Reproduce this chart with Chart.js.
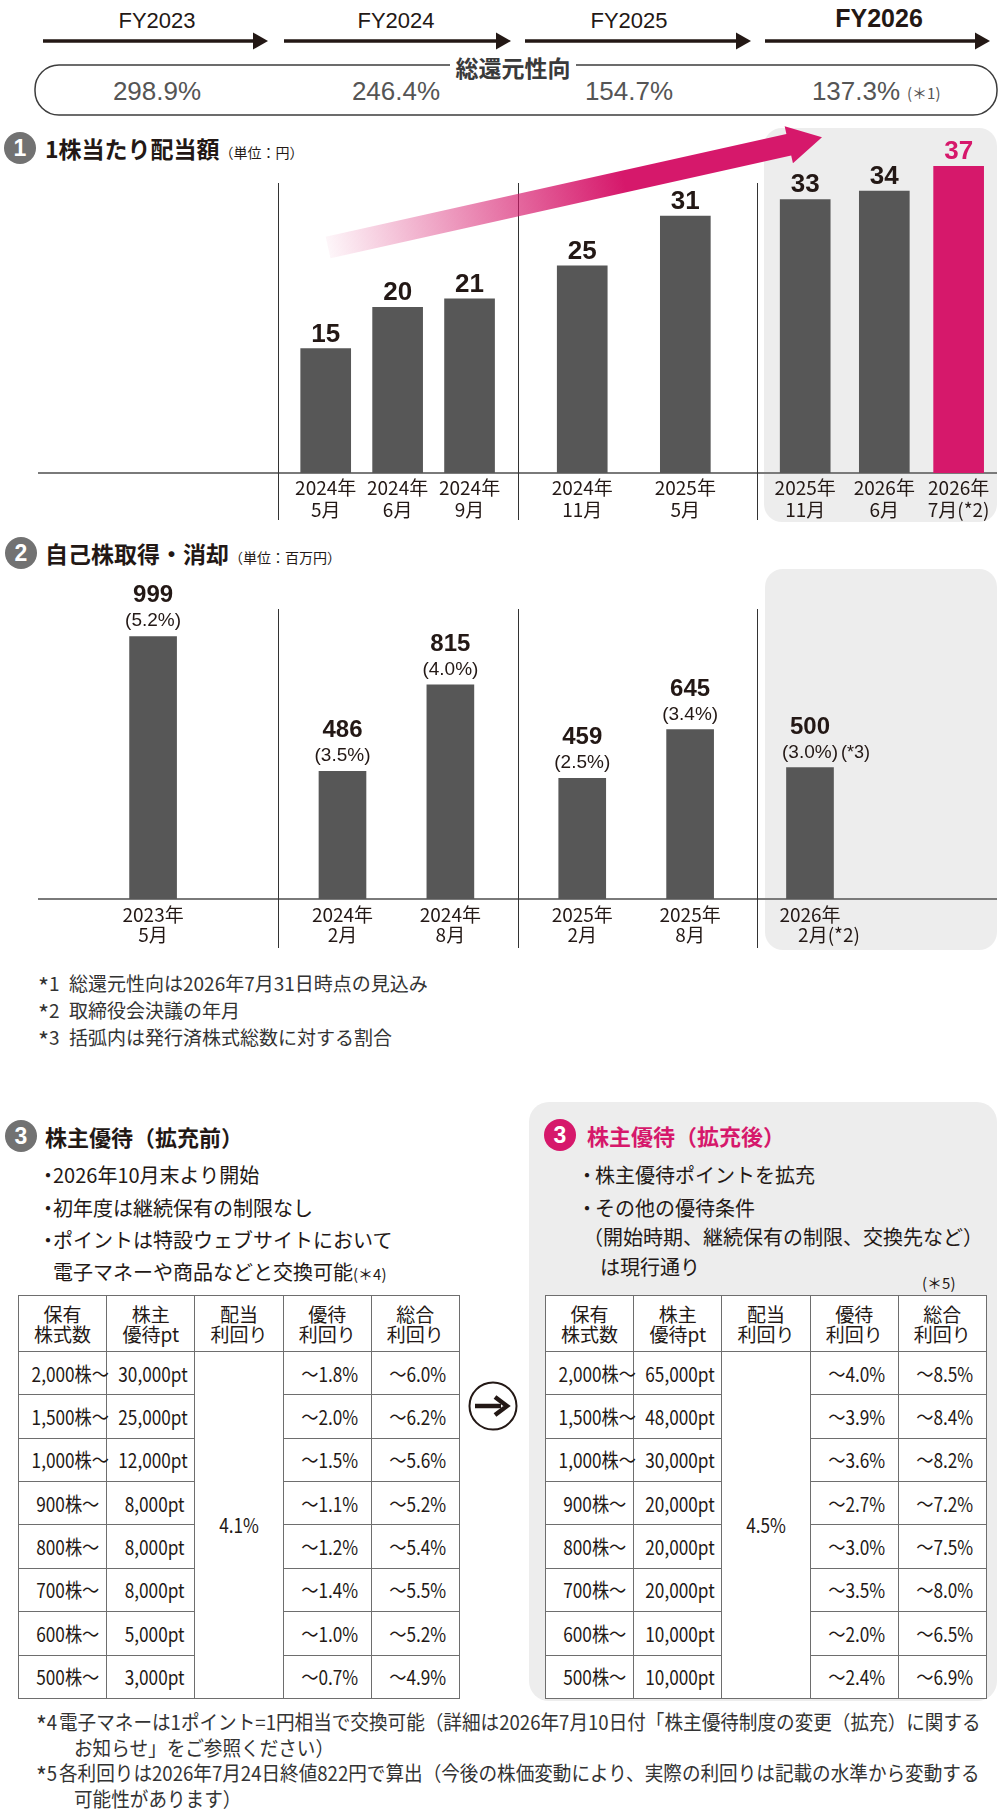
<!DOCTYPE html>
<html lang="ja">
<head>
<meta charset="utf-8">
<title>株主還元</title>
<script src="https://cdn.jsdelivr.net/npm/chart.js@4.4.1/dist/chart.umd.min.js"></script>
<style>
  html, body { margin: 0; padding: 0; }
  body {
    width: 1000px; height: 1818px; position: relative; overflow: hidden; background: #fff;
    font-family: "Noto Sans CJK JP", sans-serif; color: #231815;
  }
  .panel { position: absolute; background: #ededed; }
  .num {
    position: absolute; width: 32px; height: 32px; border-radius: 50%; background: #727272; color: #fff;
    font: bold 23px/32px "Liberation Sans", sans-serif; text-align: center;
  }
  .num.pink { background: #d6186b; }
  .title { position: absolute; font-weight: 700; font-size: 23px; line-height: 30px; white-space: nowrap; }
  .title small { font-size: 14px; font-weight: 400; }
  .title.pink { color: #d6186b; font-size: 22px; }
  .note { position: absolute; font-size: 19px; line-height: 26px; white-space: nowrap; color: #333; }
  .ast { position: relative; top: 5px; font-size: 1.25em; line-height: 0; }
  .bullet { position: absolute; font-size: 20px; line-height: 28px; white-space: nowrap; }
  .bullet .dot { display: inline-block; width: 15px; }
  .small { font-size: 15px; }
  .fn {
    position: absolute; font-size: 20px; line-height: 26px; white-space: nowrap; color: #333;
    transform: scaleX(.93); transform-origin: 0 50%;
  }
  canvas { position: absolute; }
  table.perk {
    position: absolute; top: 1295px; width: 442px; height: 403px;
    border-collapse: collapse; table-layout: fixed; background: #fff;
  }
  table.perk th, table.perk td { border: 1px solid #6e6e6e; padding: 0; overflow: visible; white-space: nowrap; }
  table.perk tr.head { height: 56px; }
  table.perk tr.row { height: 43.37px; }
  table.perk th { font-weight: 400; font-size: 19px; line-height: 20px; text-align: center; }
  table.perk td { font-size: 20px; text-align: right; }
  table.perk td span { display: inline-block; transform: scaleX(.86); transform-origin: 100% 50%; }
  table.perk td.c1 { padding-right: 7px; }
  table.perk td.c2 { padding-right: 10px; }
  table.perk td.c3 { text-align: center; }
  table.perk td.c3 span { transform-origin: 50% 50%; }
  table.perk td.c4 { padding-right: 13px; }
  table.perk td.c5 { padding-right: 13px; }
</style>
</head>
<body>

<svg id="header" width="1000" height="125" style="position:absolute;left:0;top:0"></svg>

<div class="panel" style="left:764px;top:128px;width:233px;height:394px;border-radius:18px"></div>
<div class="num" style="left:4px;top:132px">1</div>
<div class="title" style="left:45px;top:133px">1株当たり配当額<small>（単位：円）</small></div>
<canvas id="dps" width="959" height="430" style="left:38px;top:100px"></canvas>

<div class="panel" style="left:765px;top:569px;width:232px;height:381px;border-radius:18px"></div>
<div class="num" style="left:5px;top:537px">2</div>
<div class="title" style="left:45px;top:538px">自己株取得・消却<small>（単位：百万円）</small></div>
<canvas id="buyback" width="959" height="392" style="left:38px;top:560px"></canvas>

<div class="note" style="left:38px;top:970px"><span class="ast">*</span>1</div>
<div class="note" style="left:69px;top:970px">総還元性向は2026年7月31日時点の見込み</div>
<div class="note" style="left:38px;top:997px"><span class="ast">*</span>2</div>
<div class="note" style="left:69px;top:997px">取締役会決議の年月</div>
<div class="note" style="left:38px;top:1024px"><span class="ast">*</span>3</div>
<div class="note" style="left:69px;top:1024px">括弧内は発行済株式総数に対する割合</div>

<div class="num" style="left:5px;top:1120px">3</div>
<div class="title" style="left:45px;top:1121px;font-size:22px">株主優待（拡充前）</div>
<div class="bullet" style="left:38px;top:1161px"><span class="dot">・</span>2026年10月末より開始</div>
<div class="bullet" style="left:38px;top:1194px"><span class="dot">・</span>初年度は継続保有の制限なし</div>
<div class="bullet" style="left:38px;top:1226px"><span class="dot">・</span>ポイントは特設ウェブサイトにおいて</div>
<div class="bullet" style="left:53px;top:1258px">電子マネーや商品などと交換可能<span class="small">(＊4)</span></div>

<div class="panel" style="left:529px;top:1102px;width:468px;height:599px;border-radius:20px"></div>
<div class="num pink" style="left:544px;top:1119px">3</div>
<div class="title pink" style="left:587px;top:1120px">株主優待（拡充後）</div>
<div class="bullet" style="left:577px;top:1161px"><span class="dot" style="width:18px">・</span>株主優待ポイントを拡充</div>
<div class="bullet" style="left:577px;top:1194px"><span class="dot" style="width:18px">・</span>その他の優待条件</div>
<div class="bullet" style="left:583px;top:1223px">（開始時期、継続保有の制限、交換先など）</div>
<div class="bullet" style="left:600px;top:1253px">は現行通り</div>
<div class="bullet small" style="left:922px;top:1269px">(＊5)</div>

<table class="perk" id="before" style="left:18px"></table>
<table class="perk" id="after" style="left:545px"></table>

<svg width="60" height="60" style="position:absolute;left:463px;top:1376px">
  <circle cx="30" cy="30" r="23.5" fill="#fff" stroke="#231815" stroke-width="2"/>
  <line x1="12" y1="30" x2="38" y2="30" stroke="#231815" stroke-width="4.5"/>
  <polyline points="32,21 44,30 32,39" fill="none" stroke="#231815" stroke-width="4.5" stroke-linejoin="miter"/>
</svg>

<div class="fn" style="left:36px;top:1709px"><span class="ast">*</span>4</div>
<div class="fn" style="left:59px;top:1709px">電子マネーは1ポイント=1円相当で交換可能（詳細は2026年7月10日付「株主優待制度の変更（拡充）に関する</div>
<div class="fn" style="left:74px;top:1735px">お知らせ」をご参照ください）</div>
<div class="fn" style="left:36px;top:1760px"><span class="ast">*</span>5</div>
<div class="fn" style="left:59px;top:1760px">各利回りは2026年7月24日終値822円で算出（今後の株価変動により、実際の利回りは記載の水準から変動する</div>
<div class="fn" style="left:74px;top:1786px">可能性があります）</div>

<script>
// header: fiscal years and total payout ratio
const fiscalYears = ["FY2023", "FY2024", "FY2025", "FY2026"]
const payoutRatio = ["298.9%", "246.4%", "154.7%", "137.3%"]

// 1: dividend per share (yen)
const dpsLabels = [["2024年", "5月"], ["2024年", "6月"], ["2024年", "9月"], ["2024年", "11月"],
  ["2025年", "5月"], ["2025年", "11月"], ["2026年", "6月"], ["2026年", "7月(*2)"]]
const dpsValues = [15, 20, 21, 25, 31, 33, 34, 37]
// position on the fiscal-year timeline (0 = start of FY2023, 4 = end of FY2026)
const dpsTimeline = [1.2, 1.5, 1.8, 2.27, 2.7, 3.2, 3.53, 3.84]

// 2: share buyback and cancellation (million yen)
const buybackLabels = [["2023年", "5月"], ["2024年", "2月"], ["2024年", "8月"],
  ["2025年", "2月"], ["2025年", "8月"], ["2026年", "\u3000\u30002月(*2)"]]
const buybackValues = [999, 486, 815, 459, 645, 500]
const buybackShare = ["(5.2%)", "(3.5%)", "(4.0%)", "(2.5%)", "(3.4%)", "(3.0%)"]
const buybackTimeline = [0.48, 1.27, 1.72, 2.27, 2.72, 3.22]

// 3: shareholder benefit tables
const tableHead = ["保有<br>株式数", "株主<br>優待pt", "配当<br>利回り", "優待<br>利回り", "総合<br>利回り"]
const holdings = ["2,000株～", "1,500株～", "1,000株～", "900株～", "800株～", "700株～", "600株～", "500株～"]
const pointsBefore = ["30,000pt", "25,000pt", "12,000pt", "8,000pt", "8,000pt", "8,000pt", "5,000pt", "3,000pt"]
const dividendYieldBefore = "4.1%"
const benefitYieldBefore = ["～1.8%", "～2.0%", "～1.5%", "～1.1%", "～1.2%", "～1.4%", "～1.0%", "～0.7%"]
const totalYieldBefore = ["～6.0%", "～6.2%", "～5.6%", "～5.2%", "～5.4%", "～5.5%", "～5.2%", "～4.9%"]
const pointsAfter = ["65,000pt", "48,000pt", "30,000pt", "20,000pt", "20,000pt", "20,000pt", "10,000pt", "10,000pt"]
const dividendYieldAfter = "4.5%"
const benefitYieldAfter = ["～4.0%", "～3.9%", "～3.6%", "～2.7%", "～3.0%", "～3.5%", "～2.0%", "～2.4%"]
const totalYieldAfter = ["～8.5%", "～8.4%", "～8.2%", "～7.2%", "～7.5%", "～8.0%", "～6.5%", "～6.9%"]

const INK = "#231815"
const BAR = "#575757"
const PINK = "#d6186b"

// ---- header ----
const arrowSpans = [[43, 268], [284, 511], [525, 751], [765, 990]]
const fyCenters = [157, 396, 629, 879]
const ratioCenters = [157, 396, 629, 856]

let svg = ""
arrowSpans.forEach(([x0, x1]) => {
  svg += `<line x1="${x0}" y1="41" x2="${x1 - 12}" y2="41" stroke="${INK}" stroke-width="3.5"/>`
  svg += `<polygon points="${x1 - 15},32.5 ${x1},41 ${x1 - 15},49.5" fill="${INK}"/>`
})
fiscalYears.forEach((fy, i) => {
  const last = i === fiscalYears.length - 1
  svg += `<text x="${fyCenters[i]}" y="${last ? 18 : 20}" text-anchor="middle" dominant-baseline="central"
    font-family="Liberation Sans" font-size="${last ? 25 : 22}" font-weight="${last ? 700 : 400}" fill="${INK}">${fy}</text>`
})
svg += `<rect x="35" y="65" width="962" height="50" rx="24" fill="none" stroke="#3c3c3c" stroke-width="1.5"/>`
svg += `<rect x="450" y="54" width="126" height="24" fill="#fff"/>`
svg += `<text x="513" y="67" text-anchor="middle" dominant-baseline="central" font-family="Noto Sans CJK JP"
  font-size="23" font-weight="700" fill="#3a3a3a">総還元性向</text>`
payoutRatio.forEach((r, i) => {
  svg += `<text x="${ratioCenters[i]}" y="91" text-anchor="middle" dominant-baseline="central"
    font-family="Liberation Sans" font-size="26" fill="#555">${r}</text>`
})
svg += `<text x="907" y="92" dominant-baseline="central" font-family="Noto Sans CJK JP" font-size="15" fill="#555">(＊1)</text>`
document.getElementById("header").innerHTML = svg

// ---- tables ----
function buildTable(el, points, divYield, benefit, total) {
  let html = '<tr class="head">' + tableHead.map((h) => `<th>${h}</th>`).join("") + "</tr>"
  holdings.forEach((h, i) => {
    html += '<tr class="row">'
    html += `<td class="c1"><span>${h}</span></td>`
    html += `<td class="c2"><span>${points[i]}</span></td>`
    if (i === 0) html += `<td class="c3" rowspan="${holdings.length}"><span>${divYield}</span></td>`
    html += `<td class="c4"><span>${benefit[i]}</span></td>`
    html += `<td class="c5"><span>${total[i]}</span></td>`
    html += "</tr>"
  })
  el.innerHTML = html
}
buildTable(document.getElementById("before"), pointsBefore, dividendYieldBefore, benefitYieldBefore, totalYieldBefore)
buildTable(document.getElementById("after"), pointsAfter, dividendYieldAfter, benefitYieldAfter, totalYieldAfter)

// ---- charts ----
// thin vertical lines between fiscal years
const yearDividers = (top, bottom) => ({
  id: "yearDividers",
  beforeDatasetsDraw(chart) {
    const { ctx } = chart
    const x = chart.scales.x
    ctx.save()
    ctx.strokeStyle = "#333"
    ctx.lineWidth = 1
    ;[1, 2, 3].forEach((v) => {
      const px = Math.round(x.getPixelForValue(v)) + 0.5
      ctx.beginPath()
      ctx.moveTo(px, top)
      ctx.lineTo(px, bottom)
      ctx.stroke()
    })
    ctx.restore()
  },
})

// gradient arrow showing the rising trend
const trendArrow = { from: [1.21, 27.2], to: [3.27, 40.5] }
const trendPlugin = {
  id: "trend",
  afterDatasetsDraw(chart) {
    const { ctx } = chart
    const { x, y } = chart.scales
    const x0 = x.getPixelForValue(trendArrow.from[0]), y0 = y.getPixelForValue(trendArrow.from[1])
    const x1 = x.getPixelForValue(trendArrow.to[0]), y1 = y.getPixelForValue(trendArrow.to[1])
    const len = Math.hypot(x1 - x0, y1 - y0)
    const ux = (x1 - x0) / len, uy = (y1 - y0) / len
    const nx = -uy, ny = ux
    const shaft = 11, head = 19, headLen = 34
    const bx = x1 - ux * headLen, by = y1 - uy * headLen
    const grad = ctx.createLinearGradient(x0, y0, x1, y1)
    grad.addColorStop(0, "rgba(214,24,107,0.04)")
    grad.addColorStop(0.6, "rgba(214,24,107,1)")
    grad.addColorStop(1, "rgba(214,24,107,1)")
    ctx.save()
    ctx.fillStyle = grad
    ctx.beginPath()
    ctx.moveTo(x0 + nx * shaft, y0 + ny * shaft)
    ctx.lineTo(bx + nx * shaft, by + ny * shaft)
    ctx.lineTo(bx + nx * head, by + ny * head)
    ctx.lineTo(x1, y1)
    ctx.lineTo(bx - nx * head, by - ny * head)
    ctx.lineTo(bx - nx * shaft, by - ny * shaft)
    ctx.lineTo(x0 - nx * shaft, y0 - ny * shaft)
    ctx.closePath()
    ctx.fill()
    ctx.restore()
  },
}

const dpsLabelPlugin = {
  id: "dpsLabels",
  afterDatasetsDraw(chart) {
    const { ctx } = chart
    ctx.save()
    ctx.font = 'bold 26px "Liberation Sans", sans-serif'
    ctx.textAlign = "center"
    ctx.textBaseline = "alphabetic"
    chart.getDatasetMeta(0).data.forEach((bar, i) => {
      ctx.fillStyle = i === dpsValues.length - 1 ? PINK : INK
      ctx.fillText(String(dpsValues[i]), bar.x, bar.y - 7)
    })
    ctx.restore()
  },
}

const buybackLabelPlugin = {
  id: "buybackLabels",
  afterDatasetsDraw(chart) {
    const { ctx } = chart
    ctx.save()
    ctx.fillStyle = INK
    ctx.textAlign = "center"
    ctx.textBaseline = "alphabetic"
    chart.getDatasetMeta(0).data.forEach((bar, i) => {
      ctx.font = 'bold 24px "Liberation Sans", sans-serif'
      ctx.fillText(String(buybackValues[i]), bar.x, bar.y - 34)
      ctx.font = '19px "Liberation Sans", sans-serif'
      ctx.fillText(buybackShare[i], bar.x, bar.y - 10)
      if (i === buybackValues.length - 1) {
        const w = ctx.measureText(buybackShare[i]).width
        ctx.textAlign = "left"
        ctx.font = '18px "Liberation Sans", sans-serif'
        ctx.fillText("(*3)", bar.x + w / 2 + 3, bar.y - 10)
        ctx.textAlign = "center"
      }
    })
    ctx.restore()
  },
}

function timelineChart(id, cfg) {
  return new Chart(document.getElementById(id), {
    type: "bar",
    data: {
      datasets: [
        {
          data: cfg.values.map((v, i) => ({ x: cfg.timeline[i], y: v })),
          backgroundColor: cfg.values.map((v, i) => (i === cfg.highlight ? PINK : BAR)),
          barThickness: cfg.barWidth,
          borderWidth: 0,
        },
      ],
    },
    options: {
      responsive: false,
      animation: false,
      events: [],
      layout: { padding: 0 },
      plugins: { legend: { display: false }, tooltip: { enabled: false } },
      scales: {
        x: {
          type: "linear",
          min: 0,
          max: 4,
          offset: false,
          grid: { display: false, drawTicks: false },
          border: { display: true, color: "#7a7a7a", width: 2 },
          afterBuildTicks: (s) => {
            s.ticks = cfg.timeline.map((v) => ({ value: v }))
          },
          afterFit: (s) => {
            s.height = cfg.axisHeight
          },
          ticks: {
            autoSkip: false,
            maxRotation: 0,
            minRotation: 0,
            padding: cfg.tickPad,
            color: INK,
            font: { family: '"Noto Sans CJK JP", sans-serif', size: 19, lineHeight: cfg.lineHeight },
            callback: (v, i) => cfg.labels[i],
          },
        },
        y: { display: false, min: 0, max: cfg.yMax },
      },
    },
    plugins: cfg.plugins,
  })
}

timelineChart("dps", {
  values: dpsValues,
  timeline: dpsTimeline,
  labels: dpsLabels,
  highlight: dpsValues.length - 1,
  barWidth: 50,
  yMax: 45,
  axisHeight: 57,
  tickPad: 4,
  lineHeight: 22 / 19,
  plugins: [yearDividers(83, 420), dpsLabelPlugin, trendPlugin],
})

timelineChart("buyback", {
  values: buybackValues,
  timeline: buybackTimeline,
  labels: buybackLabels,
  highlight: -1,
  barWidth: 47,
  yMax: 1290,
  axisHeight: 53,
  tickPad: 6,
  lineHeight: 20 / 19,
  plugins: [yearDividers(49, 388), buybackLabelPlugin],
})
</script>
</body>
</html>
